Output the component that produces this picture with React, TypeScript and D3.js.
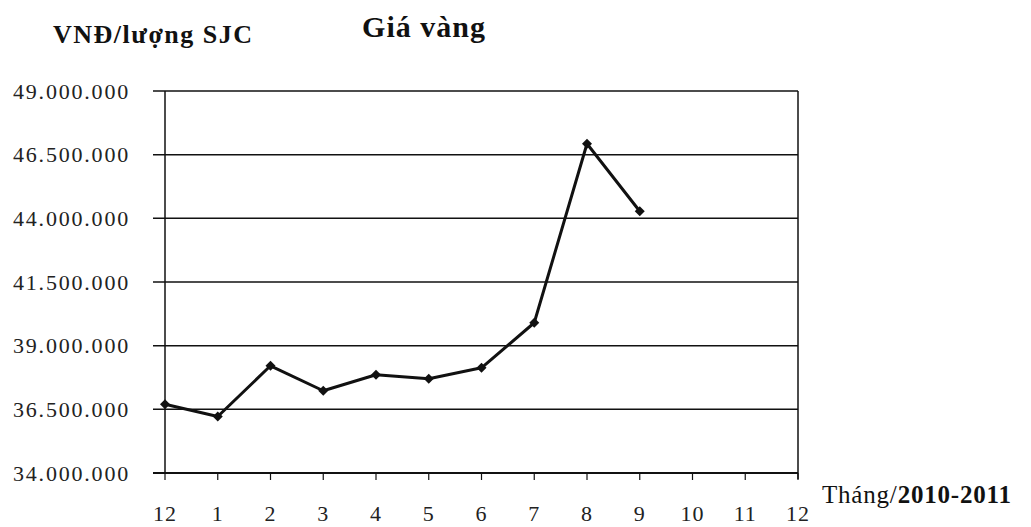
import { useEffect, useRef } from "react";
import * as d3 from "d3";

// months on the x axis (12/2010 -> 12/2011)
const months = ["12", "1", "2", "3", "4", "5", "6", "7", "8", "9", "10", "11", "12"];
// gold price, VND per luong SJC (only up to month 9)
const prices = [36700000, 36220000, 38210000, 37230000, 37860000, 37700000, 38130000, 39900000, 46930000, 44280000];
const yTicks = [34000000, 36500000, 39000000, 41500000, 44000000, 46500000, 49000000];

const serif = "'Liberation Serif', 'DejaVu Serif', serif";

export default function App() {
    const ref = useRef<SVGSVGElement>(null);

    useEffect(() => {
        const svg = d3.select(ref.current);
        svg.selectAll("*").remove();

        const left = 165, right = 798, top = 91, bottom = 473;

        const xScale = d3.scalePoint<number>()
            .domain(months.map((_, i) => i))
            .range([left, right]);

        const yScale = d3.scaleLinear()
            .domain([34000000, 49000000])
            .range([bottom, top]);

        const fmt = d3.formatLocale({ decimal: ",", thousands: ".", grouping: [3], currency: ["", ""] }).format(",d");

        // gridlines
        svg.append("g")
            .selectAll("line")
            .data(yTicks)
            .enter().append("line")
            .attr("x1", left - 12)
            .attr("x2", right)
            .attr("y1", d => yScale(d))
            .attr("y2", d => yScale(d))
            .attr("stroke", "#111")
            .attr("stroke-width", d => d === 34000000 ? 2 : 1.5);

        // y labels
        svg.append("g")
            .selectAll("text")
            .data(yTicks)
            .enter().append("text")
            .attr("x", 130)
            .attr("y", d => yScale(d))
            .attr("dy", "0.35em")
            .attr("text-anchor", "end")
            .attr("font-family", serif)
            .attr("font-size", 22)
            .attr("letter-spacing", 1.8)
            .attr("fill", "#222")
            .text(d => fmt(d));

        // left axis + right border
        svg.append("line")
            .attr("x1", left).attr("x2", left)
            .attr("y1", top).attr("y2", bottom)
            .attr("stroke", "#111").attr("stroke-width", 1.5);
        svg.append("line")
            .attr("x1", right).attr("x2", right)
            .attr("y1", top).attr("y2", bottom + 6)
            .attr("stroke", "#111").attr("stroke-width", 1.5);

        // x ticks
        svg.append("g")
            .selectAll("line")
            .data(months.map((_, i) => i))
            .enter().append("line")
            .attr("x1", d => xScale(d)!)
            .attr("x2", d => xScale(d)!)
            .attr("y1", bottom)
            .attr("y2", bottom + 7)
            .attr("stroke", "#111")
            .attr("stroke-width", 1.2);

        // x labels
        svg.append("g")
            .selectAll("text")
            .data(months)
            .enter().append("text")
            .attr("x", (d, i) => xScale(i)!)
            .attr("y", 521)
            .attr("text-anchor", "middle")
            .attr("font-family", serif)
            .attr("font-size", 22)
            .attr("letter-spacing", 1)
            .attr("fill", "#222")
            .text(d => d);

        // the price line
        svg.append("path")
            .datum(prices)
            .attr("fill", "none")
            .attr("stroke", "#111")
            .attr("stroke-width", 3)
            .attr("stroke-linejoin", "round")
            .attr("d", d3.line<number>()
                .x((d, i) => xScale(i)!)
                .y(d => yScale(d)));

        // diamond markers (square turned 45deg)
        svg.append("g")
            .selectAll("path")
            .data(prices)
            .enter().append("path")
            .attr("transform", (d, i) => `translate(${xScale(i)}, ${yScale(d)}) rotate(45)`)
            .attr("d", d3.symbol().type(d3.symbolSquare).size(50)())
            .attr("fill", "#111");

        // titles
        svg.append("text")
            .attr("x", 424).attr("y", 37)
            .attr("text-anchor", "middle")
            .attr("font-family", serif)
            .attr("font-weight", "bold")
            .attr("font-size", 30)
            .attr("letter-spacing", 1)
            .attr("fill", "#111")
            .text("Giá vàng");

        svg.append("text")
            .attr("x", 53).attr("y", 43)
            .attr("font-family", serif)
            .attr("font-weight", "bold")
            .attr("font-size", 26)
            .attr("letter-spacing", 1.5)
            .attr("fill", "#111")
            .text("VNĐ/lượng SJC");

        const unit = svg.append("text")
            .attr("x", 822).attr("y", 503)
            .attr("font-family", serif)
            .attr("font-size", 25)
            .attr("letter-spacing", 0.8)
            .attr("fill", "#111");
        unit.append("tspan").text("Tháng/");
        unit.append("tspan").attr("font-weight", "bold").text("2010-2011");
    }, []);

    return (
        <svg ref={ref} width={1031} height={527}
            style={{ position: "absolute", left: 0, top: 0, background: "#fff" }} />
    );
}
